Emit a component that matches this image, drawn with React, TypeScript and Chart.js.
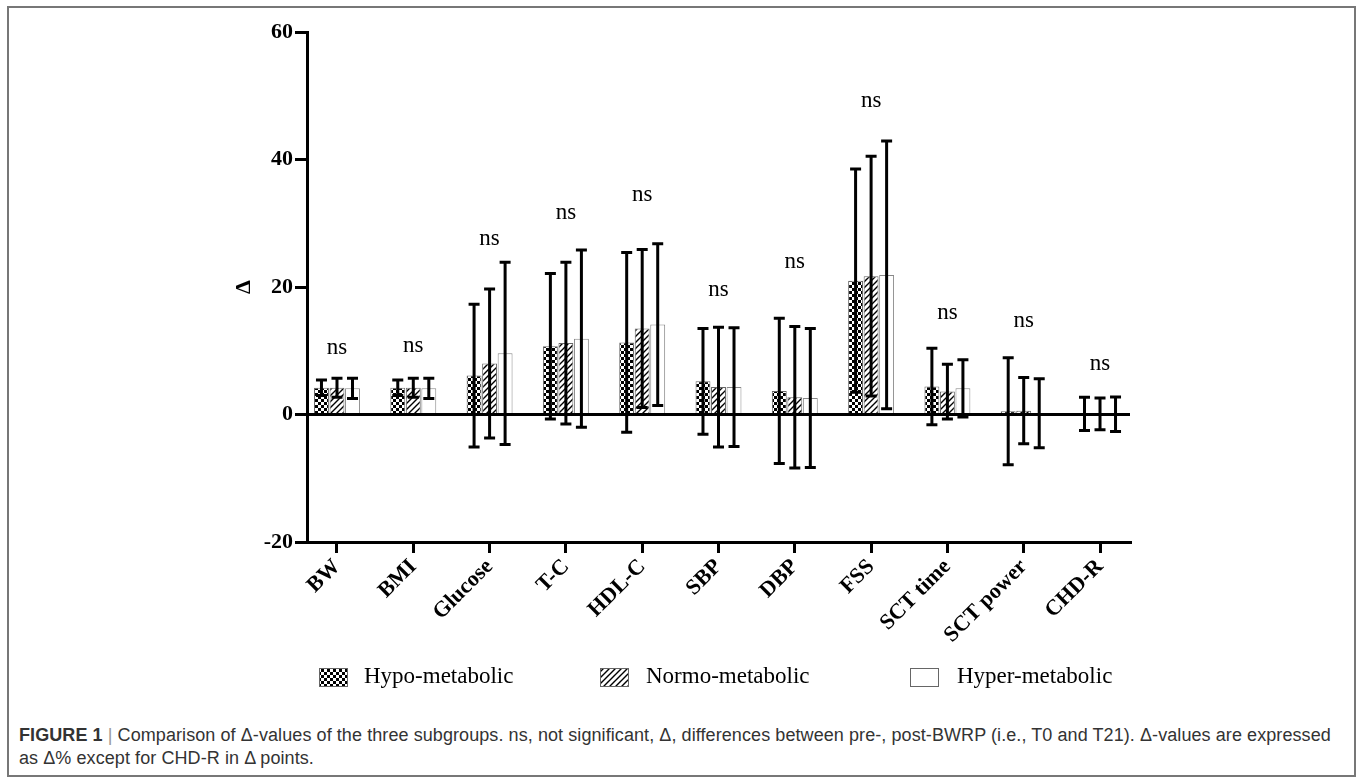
import React, { useEffect, useRef } from 'react';
import { Chart, registerables } from 'chart.js';
Chart.register(...registerables);

const categories = ['BW', 'BMI', 'Glucose', 'T-C', 'HDL-C', 'SBP', 'DBP', 'FSS', 'SCT time', 'SCT power', 'CHD-R'];
const hypoMean = [4.2, 4.2, 6.1, 10.7, 11.3, 5.2, 3.7, 21.0, 4.4, 0.5, 0.1];
const hypoSD = [1.2, 1.2, 11.2, 11.4, 14.1, 8.3, 11.4, 17.5, 6.0, 8.4, 2.6];
const normoMean = [4.2, 4.2, 8.0, 11.2, 13.5, 4.3, 2.7, 21.7, 3.6, 0.6, 0.1];
const normoSD = [1.5, 1.5, 11.7, 12.7, 12.4, 9.4, 11.1, 18.8, 4.3, 5.2, 2.5];
const hyperMean = [4.1, 4.1, 9.6, 11.9, 14.1, 4.3, 2.6, 21.9, 4.1, 0.2, 0.05];
const hyperSD = [1.6, 1.6, 14.3, 13.9, 12.7, 9.3, 10.9, 21.0, 4.5, 5.4, 2.7];
const nsLabelY = [10.5, 10.8, 27.6, 31.6, 34.4, 19.6, 23.9, 49.2, 15.9, 14.6, 8.0];
const yTicks = [-20, 0, 20, 40, 60];
const seriesNames = ['Hypo-metabolic', 'Normo-metabolic', 'Hyper-metabolic'];

const SERIF = "'Liberation Serif', 'Times New Roman', serif";

export default function App() {
  const ref = useRef<HTMLCanvasElement>(null);
  useEffect(() => {
    document.body.style.margin = '0';
    const canvas = ref.current!;
    const mk = (w: number, h: number, draw: (g: CanvasRenderingContext2D) => void) => {
      const c = document.createElement('canvas');
      c.width = w; c.height = h;
      const g = c.getContext('2d')!;
      draw(g);
      return g.createPattern(c, 'repeat')!;
    };
    const checker = mk(6, 6, (g) => {
      g.fillStyle = '#fff'; g.fillRect(0, 0, 6, 6);
      g.fillStyle = '#000'; g.fillRect(0, 0, 3, 3); g.fillRect(3, 3, 3, 3);
    });
    const hatch = mk(6, 6, (g) => {
      g.fillStyle = '#fff'; g.fillRect(0, 0, 6, 6);
      g.strokeStyle = '#000'; g.lineWidth = 1.4;
      g.beginPath();
      g.moveTo(0, 6); g.lineTo(6, 0);
      g.moveTo(-1, 1); g.lineTo(1, -1);
      g.moveTo(5, 7); g.lineTo(7, 5);
      g.stroke();
    });
    const fills: any[] = [checker, hatch, '#fff'];
    const means = [hypoMean, normoMean, hyperMean];
    const sds = [hypoSD, normoSD, hyperSD];

    const overlay = {
      id: 'overlay',
      afterDatasetsDraw(chart: any) {
        const { ctx, chartArea, scales } = chart;
        const xs = scales.x, ys = scales.y;
        ctx.save();
        const y0 = ys.getPixelForValue(0);
        ctx.strokeStyle = '#000';
        ctx.lineWidth = 3;
        ctx.beginPath();
        ctx.moveTo(chartArea.left, y0);
        ctx.lineTo(chartArea.right, y0);
        ctx.stroke();
        chart.data.datasets.forEach((ds: any, di: number) => {
          const meta = chart.getDatasetMeta(di);
          meta.data.forEach((el: any, i: number) => {
            const m = means[di][i], s = sds[di][i];
            const yt = ys.getPixelForValue(m + s);
            const yb = ys.getPixelForValue(m - s);
            const x = el.x;
            ctx.lineWidth = 3;
            ctx.beginPath();
            ctx.moveTo(x, yt); ctx.lineTo(x, yb);
            ctx.moveTo(x - 5.5, yt); ctx.lineTo(x + 5.5, yt);
            ctx.moveTo(x - 5.5, yb); ctx.lineTo(x + 5.5, yb);
            ctx.stroke();
          });
        });
        ctx.fillStyle = '#000';
        ctx.font = `23px ${SERIF}`;
        ctx.textAlign = 'center';
        ctx.textBaseline = 'middle';
        categories.forEach((_, i) => {
          ctx.fillText('ns', xs.getPixelForValue(i), ys.getPixelForValue(nsLabelY[i]));
        });
        ctx.restore();
      },
      afterDraw(chart: any) {
        const { ctx } = chart;
        ctx.save();
        ctx.translate(244, 287);
        ctx.rotate(-Math.PI / 2);
        ctx.font = `bold 22px ${SERIF}`;
        ctx.fillStyle = '#000';
        ctx.textAlign = 'center';
        ctx.textBaseline = 'middle';
        ctx.fillText('Δ', 0, 0);
        ctx.restore();
        ctx.save();
        const sw = [319, 600, 910];
        const tx = [364, 646, 957];
        const ly = 677;
        ctx.font = `23px ${SERIF}`;
        ctx.textBaseline = 'middle';
        ctx.textAlign = 'left';
        seriesNames.forEach((n, i) => {
          ctx.fillStyle = fills[i];
          ctx.fillRect(sw[i], ly - 9, 28, 18);
          ctx.strokeStyle = '#666';
          ctx.lineWidth = 1;
          ctx.strokeRect(sw[i] + 0.5, ly - 8.5, 28, 18);
          ctx.fillStyle = '#000';
          ctx.fillText(n, tx[i], ly);
        });
        ctx.restore();
      },
    };

    const mkDs = (di: number) => ({
      label: seriesNames[di],
      data: means[di].map((v, i) => ({ x: i, y: v })),
      backgroundColor: fills[di],
      borderColor: di === 2 ? '#888' : '#666',
      borderWidth: 1,
      categoryPercentage: 0.61,
      barPercentage: 0.96,
    });

    const chart = new Chart(canvas, {
      type: 'bar',
      data: { datasets: [mkDs(0), mkDs(1), mkDs(2)] },
      options: {
        animation: false,
        responsive: false,
        maintainAspectRatio: false,
        layout: { padding: { left: 0, right: 227, top: 32, bottom: 0 } },
        plugins: { legend: { display: false }, tooltip: { enabled: false } },
        scales: {
          x: {
            type: 'linear',
            offset: false,
            bounds: 'data',
            min: -0.393,
            max: 10.393,
            afterBuildTicks: (s: any) => { s.ticks = categories.map((_, i) => ({ value: i })); },
            afterFit: (s: any) => { s.height = 158; },
            ticks: {
              autoSkip: false,
              minRotation: 45,
              maxRotation: 45,
              padding: 1,
              color: '#000',
              font: { family: SERIF, size: 22, weight: 'bold' },
              callback: (_v: any, i: number) => categories[i],
            },
            grid: { offset: false, drawOnChartArea: false, drawTicks: true, tickLength: 11, lineWidth: 3, color: '#000' },
            border: { display: true, width: 3, color: '#000' },
          },
          y: {
            min: -20,
            max: 60,
            afterBuildTicks: (s: any) => { s.ticks = yTicks.map((v) => ({ value: v })); },
            afterFit: (s: any) => { s.width = 307; },
            ticks: {
              padding: 2,
              color: '#000',
              font: { family: SERIF, size: 22, weight: 'bold' },
            },
            grid: { drawOnChartArea: false, drawTicks: true, tickLength: 12, lineWidth: 3, color: '#000' },
            border: { display: true, width: 3, color: '#000' },
          },
        },
      } as any,
      plugins: [overlay],
    });
    return () => chart.destroy();
  }, []);

  return (
    <div style={{ position: 'absolute', left: 0, top: 0, width: 1357, height: 779, background: '#fff', overflow: 'hidden' }}>
      <div style={{ position: 'absolute', left: 7, top: 6, width: 1349, height: 771, border: '2px solid #777', boxSizing: 'border-box' }} />
      <canvas ref={ref} width={1357} height={700} style={{ position: 'absolute', left: 0, top: 0, width: 1357, height: 700 }} />
      <div style={{ position: 'absolute', left: 19, top: 724, width: 1330, fontFamily: "'Liberation Sans', Arial, sans-serif", fontSize: 18, letterSpacing: '0.08px', lineHeight: '23px', color: '#333', whiteSpace: 'nowrap' }}>
        <span style={{ fontWeight: 'bold' }}>FIGURE 1</span> <span style={{ color: '#999' }}>|</span> Comparison of Δ-values of the three subgroups. ns, not significant, Δ, differences between pre-, post-BWRP (i.e., T0 and T21). Δ-values are expressed
        <br />as Δ% except for CHD-R in Δ points.
      </div>
    </div>
  );
}
